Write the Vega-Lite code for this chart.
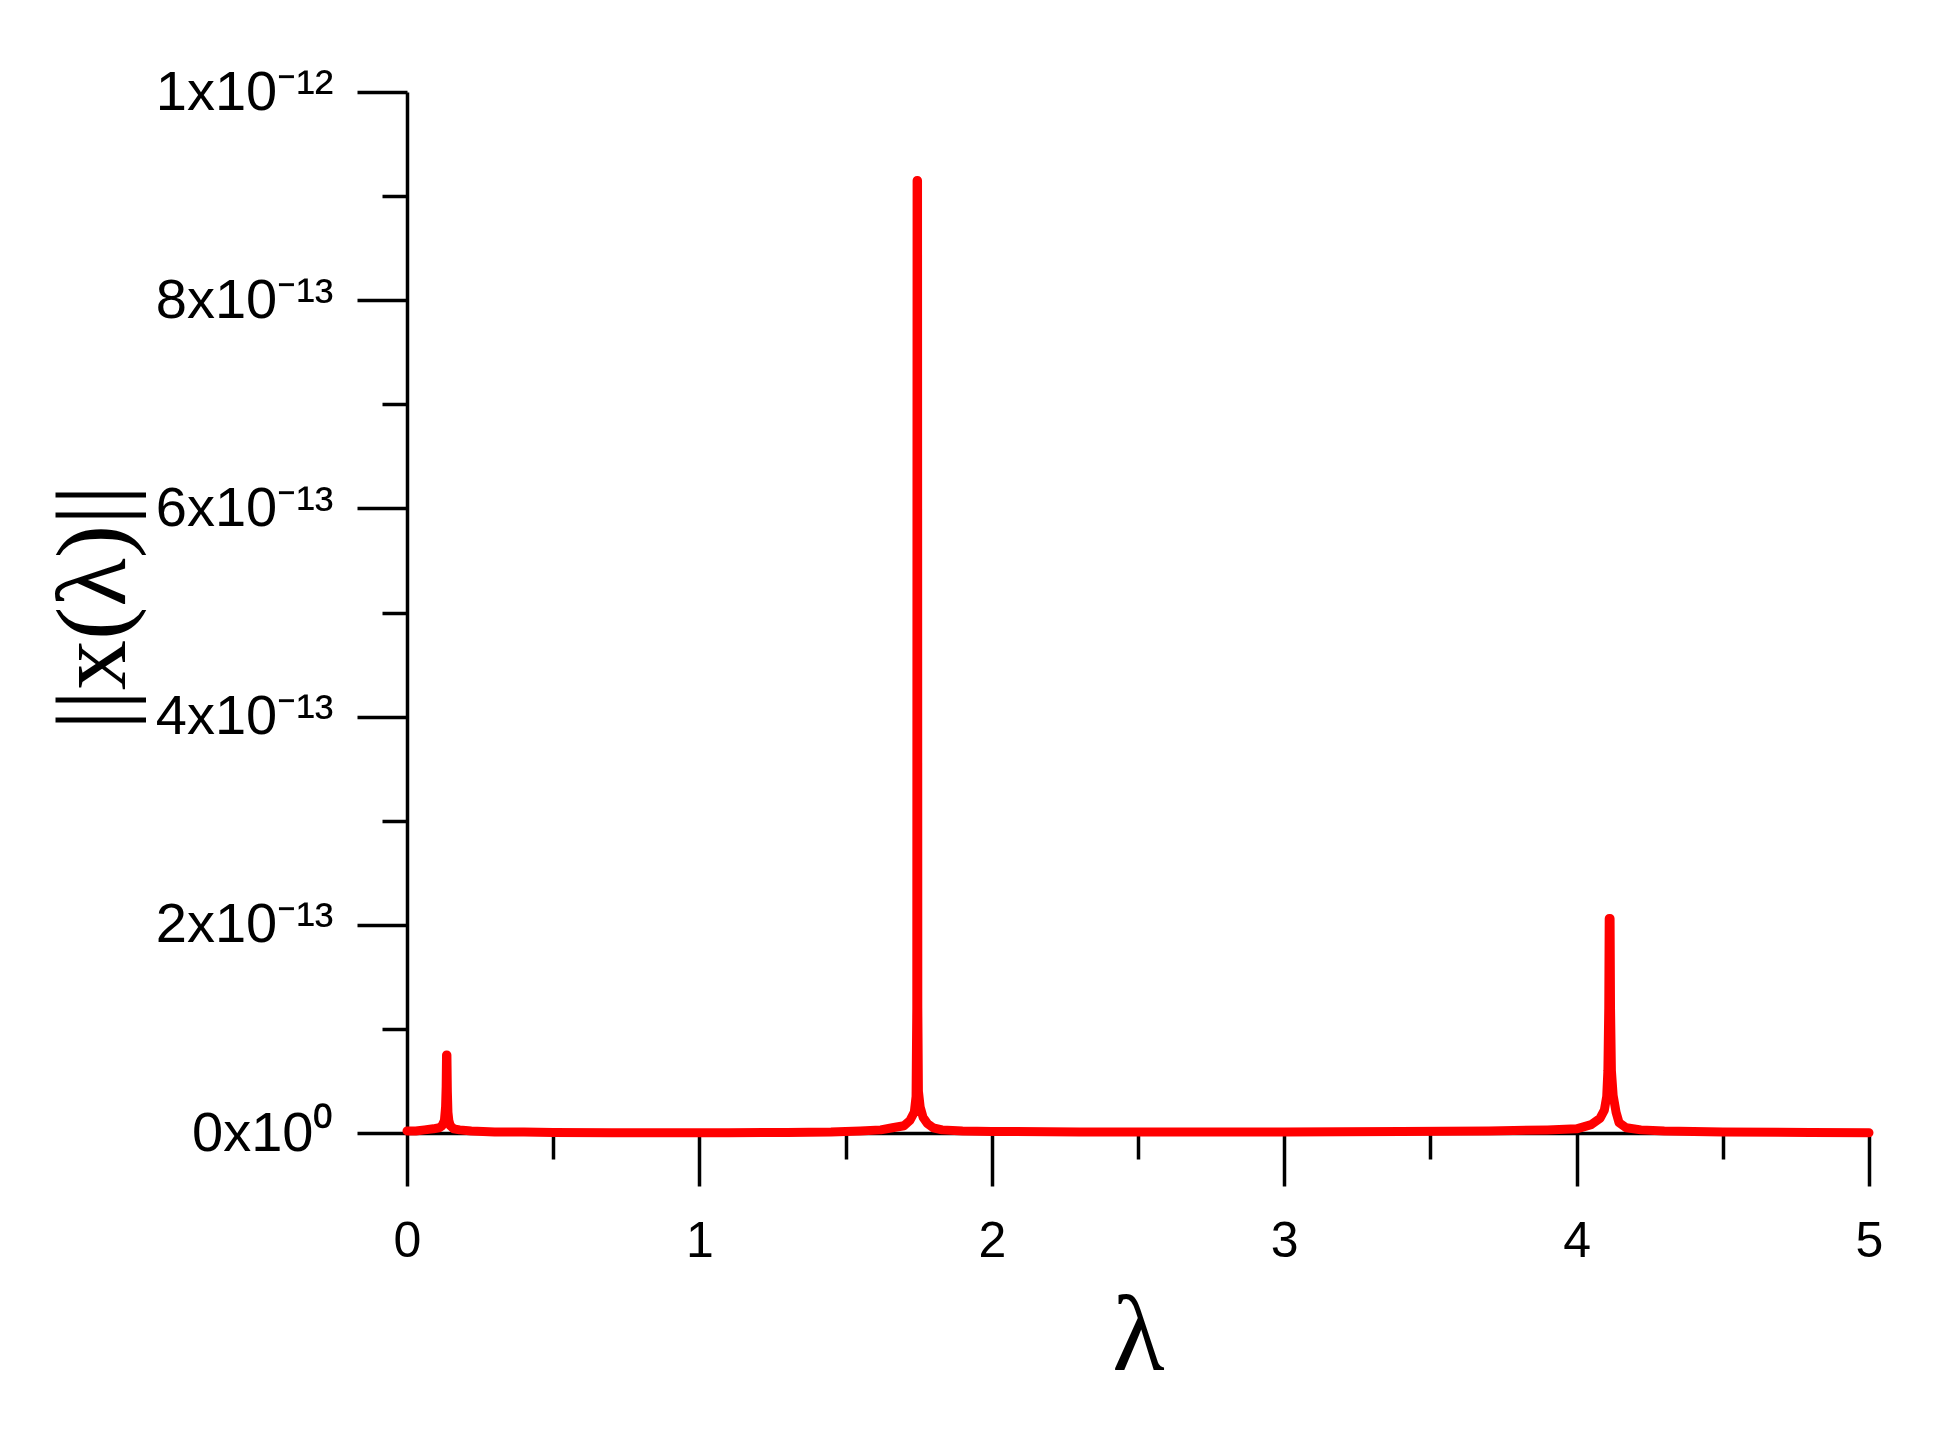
{
  "$schema": "https://vega.github.io/schema/vega-lite/v6.json",
  "width": 1462,
  "height": 1041,
  "autosize": {"type": "none"},
  "padding": {"left": 407, "top": 92, "right": 69, "bottom": 303},
  "background": "white",
  "config": {"view": {"stroke": null}},
  "data": {
    "values": [
      {"lambda": 0.0, "x": 2e-15},
      {"lambda": 0.03, "x": 2e-15},
      {"lambda": 0.06, "x": 3e-15},
      {"lambda": 0.09, "x": 4e-15},
      {"lambda": 0.11, "x": 5e-15},
      {"lambda": 0.12, "x": 7e-15},
      {"lambda": 0.128, "x": 1.2e-14},
      {"lambda": 0.132, "x": 2.5e-14},
      {"lambda": 0.134, "x": 4.5e-14},
      {"lambda": 0.1352, "x": 7.5e-14},
      {"lambda": 0.1365, "x": 7.5e-14},
      {"lambda": 0.138, "x": 4e-14},
      {"lambda": 0.14, "x": 2e-14},
      {"lambda": 0.143, "x": 1.2e-14},
      {"lambda": 0.148, "x": 7e-15},
      {"lambda": 0.16, "x": 4e-15},
      {"lambda": 0.18, "x": 3e-15},
      {"lambda": 0.22, "x": 2e-15},
      {"lambda": 0.3, "x": 1e-15},
      {"lambda": 0.4, "x": 1e-15},
      {"lambda": 0.5, "x": 5e-16},
      {"lambda": 0.7, "x": 3e-16},
      {"lambda": 0.9, "x": 2e-16},
      {"lambda": 1.1, "x": 3e-16},
      {"lambda": 1.3, "x": 5e-16},
      {"lambda": 1.45, "x": 1e-15},
      {"lambda": 1.55, "x": 2e-15},
      {"lambda": 1.62, "x": 3e-15},
      {"lambda": 1.66, "x": 5e-15},
      {"lambda": 1.7, "x": 7e-15},
      {"lambda": 1.72, "x": 1.2e-14},
      {"lambda": 1.735, "x": 2e-14},
      {"lambda": 1.741, "x": 3.5e-14},
      {"lambda": 1.7435, "x": 1.2e-13},
      {"lambda": 1.7445, "x": 9.15e-13},
      {"lambda": 1.746, "x": 9.15e-13},
      {"lambda": 1.747, "x": 1.2e-13},
      {"lambda": 1.749, "x": 4e-14},
      {"lambda": 1.755, "x": 2.5e-14},
      {"lambda": 1.765, "x": 1.5e-14},
      {"lambda": 1.78, "x": 9e-15},
      {"lambda": 1.8, "x": 5e-15},
      {"lambda": 1.83, "x": 3e-15},
      {"lambda": 1.9, "x": 2e-15},
      {"lambda": 2.0, "x": 1.5e-15},
      {"lambda": 2.3, "x": 1e-15},
      {"lambda": 2.6, "x": 1e-15},
      {"lambda": 3.0, "x": 1e-15},
      {"lambda": 3.4, "x": 1.5e-15},
      {"lambda": 3.7, "x": 2e-15},
      {"lambda": 3.9, "x": 3e-15},
      {"lambda": 4.0, "x": 4e-15},
      {"lambda": 4.05, "x": 8e-15},
      {"lambda": 4.08, "x": 1.4e-14},
      {"lambda": 4.095, "x": 2.2e-14},
      {"lambda": 4.103, "x": 3.5e-14},
      {"lambda": 4.107, "x": 6e-14},
      {"lambda": 4.11, "x": 1.2e-13},
      {"lambda": 4.1115, "x": 2.06e-13},
      {"lambda": 4.1145, "x": 2.06e-13},
      {"lambda": 4.116, "x": 1.2e-13},
      {"lambda": 4.119, "x": 6e-14},
      {"lambda": 4.125, "x": 3.6e-14},
      {"lambda": 4.135, "x": 2e-14},
      {"lambda": 4.145, "x": 1e-14},
      {"lambda": 4.17, "x": 5e-15},
      {"lambda": 4.22, "x": 3e-15},
      {"lambda": 4.3, "x": 2e-15},
      {"lambda": 4.5, "x": 1e-15},
      {"lambda": 4.8, "x": 5e-16},
      {"lambda": 5.0, "x": 3e-16}
    ]
  },
  "mark": {
    "type": "line",
    "color": "#ff0000",
    "strokeWidth": 9,
    "strokeCap": "round",
    "strokeJoin": "round",
    "clip": false
  },
  "encoding": {
    "x": {
      "field": "lambda",
      "type": "quantitative",
      "scale": {"domain": [0, 5], "nice": false, "zero": false},
      "axis": {
        "values": [0, 0.5, 1, 1.5, 2, 2.5, 3, 3.5, 4, 4.5, 5],
        "grid": false,
        "domainColor": "black",
        "domainWidth": 3.5,
        "tickColor": "black",
        "tickWidth": 3.5,
        "tickSize": {"condition": {"test": "datum.value % 1 != 0", "value": 26}, "value": 53},
        "labelExpr": "datum.value % 1 == 0 ? format(datum.value, 'd') : ''",
        "labelFont": "Liberation Sans",
        "labelFontSize": 50,
        "labelColor": "black",
        "labelPadding": 30,
        "labelFlush": false,
        "labelOverlap": false,
        "title": "λ",
        "titleFont": "Liberation Serif",
        "titleFontSize": 108,
        "titleFontWeight": "normal",
        "titleColor": "black",
        "titlePadding": 18
      }
    },
    "y": {
      "field": "x",
      "type": "quantitative",
      "scale": {"domain": [0, 1e-12], "nice": false, "zero": false},
      "axis": {
        "values": [0, 1e-13, 2e-13, 3e-13, 4e-13, 5e-13, 6e-13, 7e-13, 8e-13, 9e-13, 1e-12],
        "grid": false,
        "domainColor": "black",
        "domainWidth": 3.5,
        "tickColor": "black",
        "tickWidth": 3.5,
        "tickSize": {"condition": {"test": "round(datum.value*1e13) % 2 == 1", "value": 25}, "value": 50},
        "labelExpr": "round(datum.value*1e13) == 0 ? '0x10⁰' : round(datum.value*1e13) == 10 ? '1x10⁻¹²' : round(datum.value*1e13) % 2 == 0 ? round(datum.value*1e13) + 'x10⁻¹³' : ''",
        "labelFont": "Liberation Sans",
        "labelFontSize": 56,
        "labelColor": "black",
        "labelPadding": 24,
        "labelFlush": false,
        "labelOverlap": false,
        "title": "||x(λ)||",
        "titleFont": "Liberation Serif",
        "titleFontSize": 100,
        "titleFontWeight": "normal",
        "titleColor": "black",
        "titleBaseline": "middle",
        "titleAngle": -90,
        "titleX": -313,
        "titleY": 515
      }
    }
  }
}
